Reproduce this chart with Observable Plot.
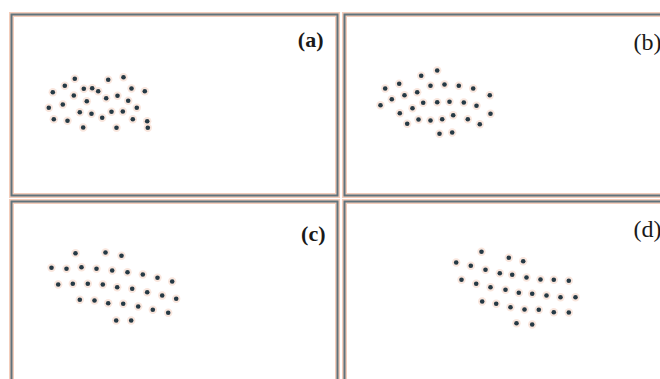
<!DOCTYPE html>
<html><head><meta charset="utf-8">
<script src="https://cdn.jsdelivr.net/npm/d3@7"></script>
<script src="https://cdn.jsdelivr.net/npm/@observablehq/plot@0.6"></script>
<style>
html,body{margin:0;padding:0;background:#fff;overflow:hidden}
#chart{position:relative;width:660px;height:379px;overflow:hidden;background:#fff}
#chart svg{position:absolute}
#chart svg text{font-family:"Liberation Serif","Times New Roman",Times,serif !important}
</style></head><body><div id="chart"></div>
<script>
// Point positions in each panel's own coordinates (x to the right, y downward)
const panelA = [[63.3,64.3],[96.7,65.3],[112,62.7],[53.3,71.3],[41.3,77.7],[72.3,74.3],[80.7,73.7],[86.7,76.7],[120,74],[133.3,76.7],
  [62.3,81],[75.3,86.7],[94.7,83.7],[106,81.3],[116.7,86.3],[37.3,93.3],[51.3,90],[68.3,97.7],[80,99.3],[100,97.3],
  [111.3,97],[125.3,93.3],[42.3,104.7],[56,106.3],[90.7,103.3],[121.3,104.7],[135.7,106.7],[71.7,113],[105,113.3],[136.3,113.3]];
const panelB = [[76.7,61.3],[92.7,56],[54.7,69.3],[40.7,74],[86,71.3],[100,70],[114.3,71.3],[128.7,74],[60,80.7],[72.7,77.7],
  [145.3,80.7],[47.3,84.7],[36,90.7],[78.7,88.3],[92.7,87.7],[105,87.3],[119.3,88],[132,91.3],[68,93.7],[55.3,98.7],
  [108.7,100.7],[146,99.3],[74,105],[86,106],[97.7,104.7],[123.3,104.7],[62.7,109.3],[135.3,109.7],[95,119.3],[107.7,118]];
const panelC = [[64,51.7],[94,51],[110,54.3],[40,66.3],[55,67.3],[70,65.7],[85,67.3],[100.7,69],[116,70.7],[131.3,73],
  [146,76.3],[160.7,80],[46.7,83],[61.3,82.3],[76.3,82.3],[91.3,83],[105.7,85.7],[120.7,87.3],[135.7,90.7],[150.7,94],
  [164.7,97.3],[68.3,98.3],[83,99],[96.7,101.7],[111.7,102.3],[126.7,105],[141.3,108.3],[156.7,111.3],[104.7,119],[119.7,119]];
const panelD = [[137,50.3],[164.3,56.3],[178.7,59.7],[111.7,61],[126.3,64.3],[141,68.3],[155.3,71.7],[167.7,73.3],[182,76],[196,78],
  [209.3,78.3],[224.3,79.3],[117,78.3],[131.7,82.3],[146,85.7],[161,88.3],[174.3,91.3],[187.7,92.3],[202,94],[216,95.7],
  [231,95.7],[137.7,100],[151.7,102.3],[166,105.7],[180,108],[194.3,108.3],[209.3,110.7],[224.3,111],[172,121.7],[187.7,123]];
const labels = ["(a)", "(b)", "(c)", "(d)"];

const PW = 326, PH = 181, M = 4;
const panels = [
  {pts: panelA, label: labels[0], left: 11,  top: 14,  lx: 312, ly: 32, weight: "bold",   size: 22},
  {pts: panelB, label: labels[1], left: 344, top: 14,  lx: 317, ly: 35, weight: "normal", size: 24},
  {pts: panelC, label: labels[2], left: 11,  top: 201, lx: 314, ly: 39, weight: "bold",   size: 22},
  {pts: panelD, label: labels[3], left: 344, top: 201, lx: 317, ly: 35, weight: "normal", size: 24}
];

const root = document.getElementById("chart");
for (const p of panels) {
  const svg = Plot.plot({
    width: PW + 2 * M, height: PH + 2 * M,
    margin: M,
    style: {background: "transparent", overflow: "visible", fontFamily: "Liberation Serif"},
    x: {domain: [0, PW], axis: null},
    y: {domain: [PH, 0], axis: null},
    marks: [
      Plot.frame({fill: "#ffffff", stroke: "#f3cdbb", strokeWidth: 5}),
      Plot.frame({stroke: "#5f737c", strokeWidth: 2}),
      Plot.dot(p.pts, {x: d => d[0], y: d => d[1], r: 4.2, fill: "#f6dccf", fillOpacity: 0.7}),
      Plot.dot(p.pts, {x: d => d[0], y: d => d[1], r: 2.3, fill: "#263a45"}),
      Plot.text([p.label], {x: () => p.lx, y: () => p.ly, text: d => d, textAnchor: "end", lineAnchor: "bottom",
        fontFamily: "Liberation Serif", fontSize: p.size, fontWeight: p.weight, fill: "#1a1a1a"})
    ]
  });
  svg.style.left = (p.left - M) + "px";
  svg.style.top = (p.top - M) + "px";
  root.appendChild(svg);
}
</script></body></html>
